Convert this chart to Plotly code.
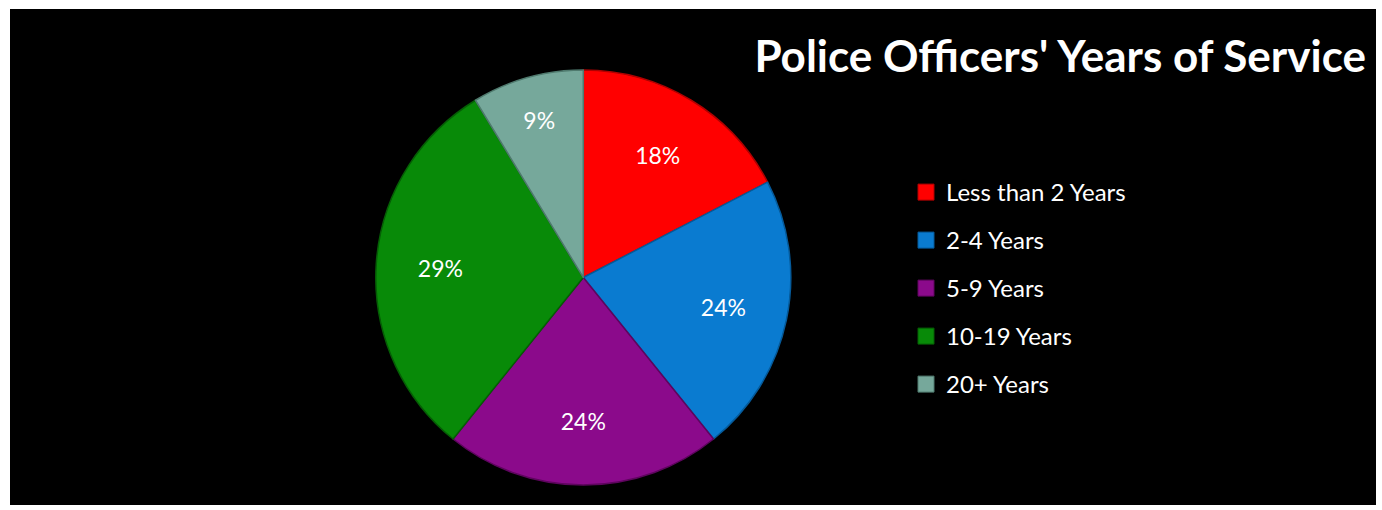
import plotly.graph_objects as go

# ---- data ----
categories = ["Less than 2 Years", "2-4 Years", "5-9 Years", "10-19 Years", "20+ Years"]
shares = [17.4, 21.8, 21.6, 30.5, 8.7]          # slice sizes as drawn
pct_labels = ["18%", "24%", "24%", "29%", "9%"]  # labels printed on the slices
colors = ["#FF0000", "#0A7BD0", "#8B0A8B", "#088A08", "#76A89B"]
edge_colors = ["#B00000", "#055A9A", "#5E055E", "#055E05", "#4F7A6E"]
title_text = "Police Officers' Years of Service"

W, H = 1382, 510
FONT = "Lato, Calibri, 'Open Sans', sans-serif"
pie_domain = dict(x=[(583.3 - 207.5) / W, (583.3 + 207.5) / W],
                  y=[1 - (277.5 + 207.5) / H, 1 - (277.5 - 207.5) / H])

fig = go.Figure()

# coloured slices
fig.add_trace(go.Pie(
    labels=categories,
    values=shares,
    textinfo="none",
    sort=False,
    direction="clockwise",
    rotation=0,
    marker=dict(colors=colors, line=dict(color=edge_colors, width=1.5)),
    showlegend=False,
    domain=pie_domain,
    hovertemplate="%{label}: %{customdata}<extra></extra>",
    customdata=pct_labels,
))

# transparent ring carrying the percentage labels further out in each slice
fig.add_trace(go.Pie(
    labels=categories,
    values=shares,
    hole=0.38,
    text=pct_labels,
    textinfo="text",
    textposition="inside",
    insidetextorientation="horizontal",
    textfont=dict(family=FONT, size=23, color="white"),
    sort=False,
    direction="clockwise",
    rotation=0,
    marker=dict(colors=["rgba(0,0,0,0)"] * len(categories),
                line=dict(color="rgba(0,0,0,0)", width=0)),
    showlegend=False,
    domain=pie_domain,
    hovertemplate="%{label}: %{text}<extra></extra>",
))

# legend entries (one per category, so the spacing between them can be set)
for name, c, ec in zip(categories, colors, edge_colors):
    fig.add_trace(go.Scatter(
        x=[None], y=[None], mode="markers", name=name, legendgroup=name,
        marker=dict(symbol="square", size=16, color=c, line=dict(color=ec, width=1)),
        hoverinfo="skip",
    ))

fig.update_layout(
    width=W, height=H,
    margin=dict(l=0, r=0, t=0, b=0),
    paper_bgcolor="white",
    plot_bgcolor="rgba(0,0,0,0)",
    xaxis=dict(visible=False),
    yaxis=dict(visible=False),
    title=dict(text=title_text, x=1366 / W, xanchor="right", xref="paper",
               y=1 - 57 / H, yanchor="middle", yref="paper",
               font=dict(family=FONT, size=44, color="white", weight="bold")),
    legend=dict(x=906 / W, xanchor="left", y=1 - 170 / H, yanchor="top",
                font=dict(family=FONT, size=24, color="white"),
                bgcolor="rgba(0,0,0,0)", tracegroupgap=13.8),
    shapes=[dict(type="rect", xref="paper", yref="paper",
                 x0=10 / W, x1=1376 / W, y0=1 - 505 / H, y1=1 - 9 / H,
                 fillcolor="black", line=dict(width=0), layer="below")],
)

fig.write_html("out.html", config={"displayModeBar": False},
               post_script="document.body.style.margin='0';")
